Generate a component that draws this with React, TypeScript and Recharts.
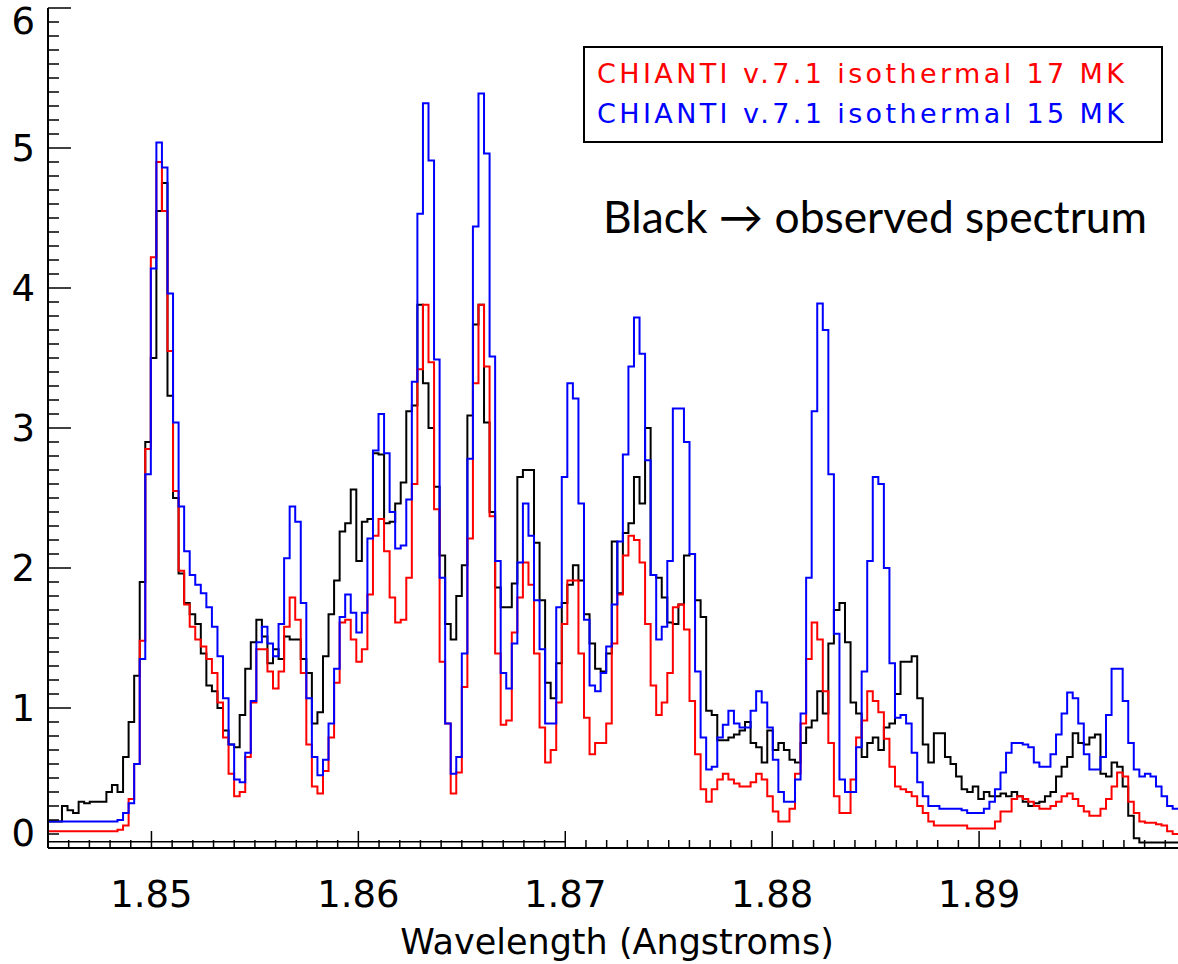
import React from "react";
import { LineChart, Line, XAxis, YAxis, ReferenceLine } from "recharts";

// spectrometer bin grid (Angstrom), one value per bin
const LAMBDA_START = 1.84487;
const LAMBDA_BIN = 0.0002684;

// observed spectrum (black)
const OBSERVED = [
  0.19, 0.19, 0.19, 0.30, 0.27, 0.25, 0.33, 0.32, 0.33, 0.33,
  0.33, 0.40, 0.45, 0.40, 0.65, 0.90, 1.23, 1.90, 2.90, 3.50,
  4.55, 4.75, 3.23, 2.50, 1.96, 1.75, 1.67, 1.60, 1.39, 1.16,
  1.12, 1.00, 0.84, 0.74, 0.72, 0.95, 1.28, 1.47, 1.63, 1.51,
  1.32, 1.42, 1.35, 1.51, 1.49, 1.49, 1.35, 1.25, 0.89, 0.97,
  1.37, 1.67, 1.91, 2.26, 2.32, 2.56, 2.05, 2.33, 2.35, 2.82,
  2.81, 2.32, 2.33, 2.46, 2.61, 3.12, 3.16, 3.88, 3.32, 3.00,
  2.58, 2.09, 1.60, 1.49, 1.80, 2.02, 3.09, 3.74, 3.88, 3.04,
  2.40, 1.86, 1.72, 1.72, 1.89, 2.65, 2.70, 2.70, 2.18, 1.77,
  1.18, 1.07, 1.32, 1.75, 1.88, 2.02, 1.91, 1.67, 1.46, 1.28,
  1.26, 1.39, 2.19, 1.82, 2.25, 2.32, 2.65, 2.46, 3.00, 1.95,
  1.93, 1.79, 1.61, 1.60, 1.74, 2.09, 2.10, 1.77, 1.65, 0.98,
  0.95, 0.77, 0.77, 0.79, 0.81, 0.84, 0.90, 0.75, 0.72, 0.61,
  0.84, 0.70, 0.75, 0.70, 0.63, 0.61, 0.75, 0.86, 0.91, 1.12,
  0.96, 1.46, 1.70, 1.75, 1.47, 1.04, 0.96, 0.65, 0.75, 0.79,
  0.70, 0.86, 0.89, 1.10, 1.33, 1.33, 1.37, 1.07, 0.74, 0.61,
  0.82, 0.82, 0.65, 0.60, 0.51, 0.42, 0.40, 0.44, 0.35, 0.40,
  0.37, 0.37, 0.39, 0.37, 0.40, 0.37, 0.33, 0.30, 0.32, 0.33,
  0.37, 0.40, 0.51, 0.58, 0.65, 0.82, 0.75, 0.74, 0.79, 0.81,
  0.53, 0.51, 0.61, 0.58, 0.44, 0.23, 0.07, 0.04, 0.04, 0.04,
  0.04, 0.04, 0.04, 0.04, 0.04,
];

// CHIANTI isothermal 17 MK (red)
const MODEL_17MK = [
  0.12, 0.12, 0.12, 0.12, 0.12, 0.12, 0.12, 0.12, 0.12, 0.12,
  0.12, 0.12, 0.12, 0.13, 0.16, 0.35, 0.60, 1.48, 2.85, 4.22,
  4.90, 4.55, 3.55, 2.55, 1.98, 1.74, 1.58, 1.49, 1.44, 1.35,
  1.25, 1.04, 0.79, 0.53, 0.37, 0.40, 0.65, 1.04, 1.42, 1.42,
  1.26, 1.14, 1.26, 1.58, 1.79, 1.63, 1.25, 0.74, 0.44, 0.39,
  0.55, 0.79, 1.18, 1.61, 1.63, 1.49, 1.33, 1.42, 1.81, 2.23,
  2.35, 2.12, 1.79, 1.61, 1.63, 1.93, 2.60, 3.42, 3.88, 3.47,
  2.42, 1.33, 0.89, 0.39, 0.54, 1.15, 2.21, 3.32, 3.88, 3.44,
  2.37, 1.39, 0.88, 0.91, 1.54, 1.79, 2.04, 1.88, 1.39, 0.86,
  0.61, 0.70, 1.04, 1.60, 1.91, 1.91, 1.39, 0.93, 0.67, 0.75,
  0.75, 0.89, 1.46, 1.81, 2.09, 2.23, 2.20, 2.04, 1.60, 1.16,
  0.95, 1.04, 1.25, 1.72, 1.74, 1.56, 1.05, 0.67, 0.42, 0.33,
  0.42, 0.49, 0.53, 0.49, 0.46, 0.44, 0.44, 0.47, 0.53, 0.49,
  0.37, 0.26, 0.19, 0.19, 0.28, 0.53, 0.89, 1.35, 1.61, 1.49,
  1.12, 0.75, 0.37, 0.25, 0.25, 0.49, 0.79, 0.91, 1.12, 1.05,
  0.97, 0.78, 0.58, 0.44, 0.42, 0.40, 0.37, 0.30, 0.25, 0.19,
  0.16, 0.16, 0.16, 0.16, 0.16, 0.16, 0.14, 0.14, 0.14, 0.14,
  0.14, 0.19, 0.26, 0.26, 0.35, 0.37, 0.35, 0.33, 0.30, 0.28,
  0.28, 0.30, 0.33, 0.37, 0.39, 0.35, 0.30, 0.26, 0.23, 0.23,
  0.28, 0.35, 0.44, 0.54, 0.51, 0.33, 0.25, 0.19, 0.18, 0.18,
  0.17, 0.16, 0.12, 0.10, 0.10,
];

// CHIANTI isothermal 15 MK (blue)
const MODEL_15MK = [
  0.19, 0.19, 0.19, 0.19, 0.19, 0.19, 0.19, 0.19, 0.19, 0.19,
  0.19, 0.19, 0.19, 0.20, 0.25, 0.32, 0.60, 1.35, 2.67, 4.14,
  5.04, 4.86, 3.96, 3.04, 2.44, 2.12, 1.95, 1.88, 1.82, 1.72,
  1.58, 1.37, 1.07, 0.74, 0.49, 0.47, 0.68, 1.05, 1.47, 1.58,
  1.46, 1.37, 1.60, 2.07, 2.44, 2.33, 1.75, 1.07, 0.65, 0.52,
  0.63, 0.89, 1.28, 1.65, 1.81, 1.68, 1.54, 1.68, 2.21, 2.84,
  3.10, 2.82, 2.40, 2.14, 2.16, 2.49, 3.33, 4.53, 5.32, 4.91,
  3.49, 1.93, 0.89, 0.53, 0.65, 1.39, 2.78, 4.44, 5.39, 4.96,
  3.51, 2.05, 1.25, 1.14, 1.46, 2.04, 2.46, 2.23, 1.77, 1.42,
  0.89, 0.89, 1.72, 2.65, 3.32, 3.21, 2.46, 1.63, 1.16, 1.12,
  1.25, 1.44, 1.74, 2.19, 2.81, 3.44, 3.79, 3.53, 2.77, 1.95,
  1.49, 1.58, 2.05, 3.14, 3.14, 2.90, 2.10, 1.26, 0.79, 0.56,
  0.58, 0.79, 0.88, 0.98, 0.89, 0.86, 0.86, 0.98, 1.12, 1.04,
  0.86, 0.63, 0.40, 0.33, 0.33, 0.49, 0.96, 1.93, 3.12, 3.89,
  3.70, 2.67, 1.53, 0.49, 0.40, 0.40, 0.72, 1.26, 2.05, 2.65,
  2.60, 2.00, 1.32, 0.93, 0.95, 0.89, 0.68, 0.47, 0.37, 0.30,
  0.30, 0.28, 0.28, 0.28, 0.28, 0.27, 0.25, 0.25, 0.25, 0.28,
  0.33, 0.42, 0.54, 0.68, 0.75, 0.75, 0.74, 0.72, 0.61, 0.58,
  0.58, 0.67, 0.81, 0.96, 1.11, 1.07, 0.89, 0.67, 0.56, 0.56,
  0.65, 0.95, 1.28, 1.28, 1.05, 0.75, 0.56, 0.51, 0.53, 0.51,
  0.44, 0.37, 0.30, 0.28, 0.28,
];

const X_MAJOR = [1.85, 1.86, 1.87, 1.88, 1.89, 1.9];
const X_LABELED = [1.85, 1.86, 1.87, 1.88, 1.89];
const Y_MAJOR = [0, 1, 2, 3, 4, 5, 6];
const X_DOMAIN: [number, number] = [1.845, 1.9];
const Y_DOMAIN: [number, number] = [0, 6];

const LEGEND = [
  { label: "CHIANTI v.7.1 isothermal 17 MK", color: "#ff0000" },
  { label: "CHIANTI v.7.1 isothermal 15 MK", color: "#0000ff" },
];
const NOTE = "Black \u2192 observed spectrum";

const IDL_FONT = "'DejaVu Sans', sans-serif";

// minor ticks every 0.001 A and 0.1 counts
const xTicks = Array.from({ length: 56 }, (_, k) => +(1.845 + k * 0.001).toFixed(3));
const yTicks = Array.from({ length: 61 }, (_, k) => +(k * 0.1).toFixed(1));

const near = (list: number[], v: number) => list.some(m => Math.abs(m - v) < 1e-6);

const data = OBSERVED.map((v, i) => ({
  w: LAMBDA_START + i * LAMBDA_BIN,
  black: v,
  red: MODEL_17MK[i],
  blue: MODEL_15MK[i],
}));
// close the last bin so the step has a width
const n = OBSERVED.length;
data.push({
  w: LAMBDA_START + n * LAMBDA_BIN,
  black: OBSERVED[n - 1],
  red: MODEL_17MK[n - 1],
  blue: MODEL_15MK[n - 1],
});

function BottomTick({ x, y, payload }: any) {
  const v = payload.value;
  const major = near(X_MAJOR, v);
  return (
    <g>
      <line x1={x} x2={x} y1={y} y2={y - (major ? 17 : 8)} stroke="#000" strokeWidth={1.5} />
      {near(X_LABELED, v) && (
        <text x={x} y={y + 59} textAnchor="middle" fontSize={37} fontFamily={IDL_FONT} fill="#000">
          {v.toFixed(2)}
        </text>
      )}
    </g>
  );
}

function TopTick({ x, y, payload }: any) {
  const major = near(X_MAJOR, payload.value);
  return <line x1={x} x2={x} y1={y} y2={y + (major ? 17 : 8)} stroke="#000" strokeWidth={1.5} />;
}

function LeftTick({ x, y, payload }: any) {
  const v = payload.value;
  const major = near(Y_MAJOR, v);
  // IDL nudges the end labels inside the frame
  const dy = v === 6 ? 26 : v === 0 ? -2 : 13;
  return (
    <g>
      <line x1={x} x2={x + (major ? 23 : 11)} y1={y} y2={y} stroke="#000" strokeWidth={1.5} />
      {major && (
        <text x={x - 13} y={y + dy} textAnchor="end" fontSize={37} fontFamily={IDL_FONT} fill="#000">
          {v}
        </text>
      )}
    </g>
  );
}

function RightTick({ x, y, payload }: any) {
  const major = near(Y_MAJOR, payload.value);
  return <line x1={x} x2={x - (major ? 23 : 11)} y1={y} y2={y} stroke="#000" strokeWidth={1.5} />;
}

const frame = { stroke: "#000", strokeWidth: 2 };

export default function App() {
  return (
    <div style={{ position: "absolute", left: 0, top: 0, width: 1178, height: 964, overflow: "hidden", background: "#fff" }}>
      <LineChart width={1200} height={964} data={data} margin={{ top: 8, right: 14, bottom: 0, left: 0 }}>
        <XAxis
          type="number"
          dataKey="w"
          domain={X_DOMAIN}
          allowDataOverflow
          ticks={xTicks}
          interval={0}
          tickSize={0}
          tickMargin={0}
          tickLine={false}
          tick={BottomTick}
          axisLine={frame}
          height={116}
          label={{
            value: "Wavelength (Angstroms)",
            position: "insideBottom",
            offset: 10,
            fontSize: 35,
            fontFamily: IDL_FONT,
            fill: "#000",
          }}
        />
        <XAxis
          xAxisId="top"
          orientation="top"
          type="number"
          dataKey="w"
          domain={X_DOMAIN}
          allowDataOverflow
          ticks={xTicks}
          interval={0}
          tickSize={0}
          tickMargin={0}
          tickLine={false}
          tick={TopTick}
          axisLine={frame}
          height={0}
        />
        <YAxis
          type="number"
          domain={Y_DOMAIN}
          allowDataOverflow
          ticks={yTicks}
          interval={0}
          tickSize={0}
          tickMargin={0}
          tickLine={false}
          tick={LeftTick}
          axisLine={frame}
          width={48}
        />
        <YAxis
          yAxisId="right"
          orientation="right"
          type="number"
          domain={Y_DOMAIN}
          allowDataOverflow
          ticks={yTicks}
          interval={0}
          tickSize={0}
          tickMargin={0}
          tickLine={false}
          tick={RightTick}
          axisLine={frame}
          width={0}
        />
        <ReferenceLine
          segment={[{ x: 1.845, y: 0.045 }, { x: 1.87, y: 0.045 }]}
          stroke="#000"
          strokeWidth={1.5}
          ifOverflow="visible"
        />
        <Line type="stepAfter" dataKey="black" stroke="#000000" strokeWidth={2} dot={false} isAnimationActive={false} />
        <Line type="stepAfter" dataKey="red" stroke="#ff0000" strokeWidth={2} dot={false} isAnimationActive={false} />
        <Line type="stepAfter" dataKey="blue" stroke="#0000ff" strokeWidth={2} dot={false} isAnimationActive={false} />
      </LineChart>

      <svg width={1178} height={964} style={{ position: "absolute", left: 0, top: 0, pointerEvents: "none" }}>
        <rect x={584} y={47} width={578} height={95} fill="#fff" stroke="#000" strokeWidth={2} />
        {LEGEND.map((item, i) => (
          <text
            key={item.label}
            x={597}
            y={83 + i * 40}
            fill={item.color}
            fontSize={27}
            fontFamily={IDL_FONT}
            textLength={527}
            lengthAdjust="spacing"
          >
            {item.label}
          </text>
        ))}
        <text
          x={603}
          y={233}
          fill="#000"
          fontSize={45}
          fontFamily="Lato, 'Open Sans', sans-serif"
          textLength={544}
          lengthAdjust="spacingAndGlyphs"
        >
          {NOTE}
        </text>
      </svg>
    </div>
  );
}
